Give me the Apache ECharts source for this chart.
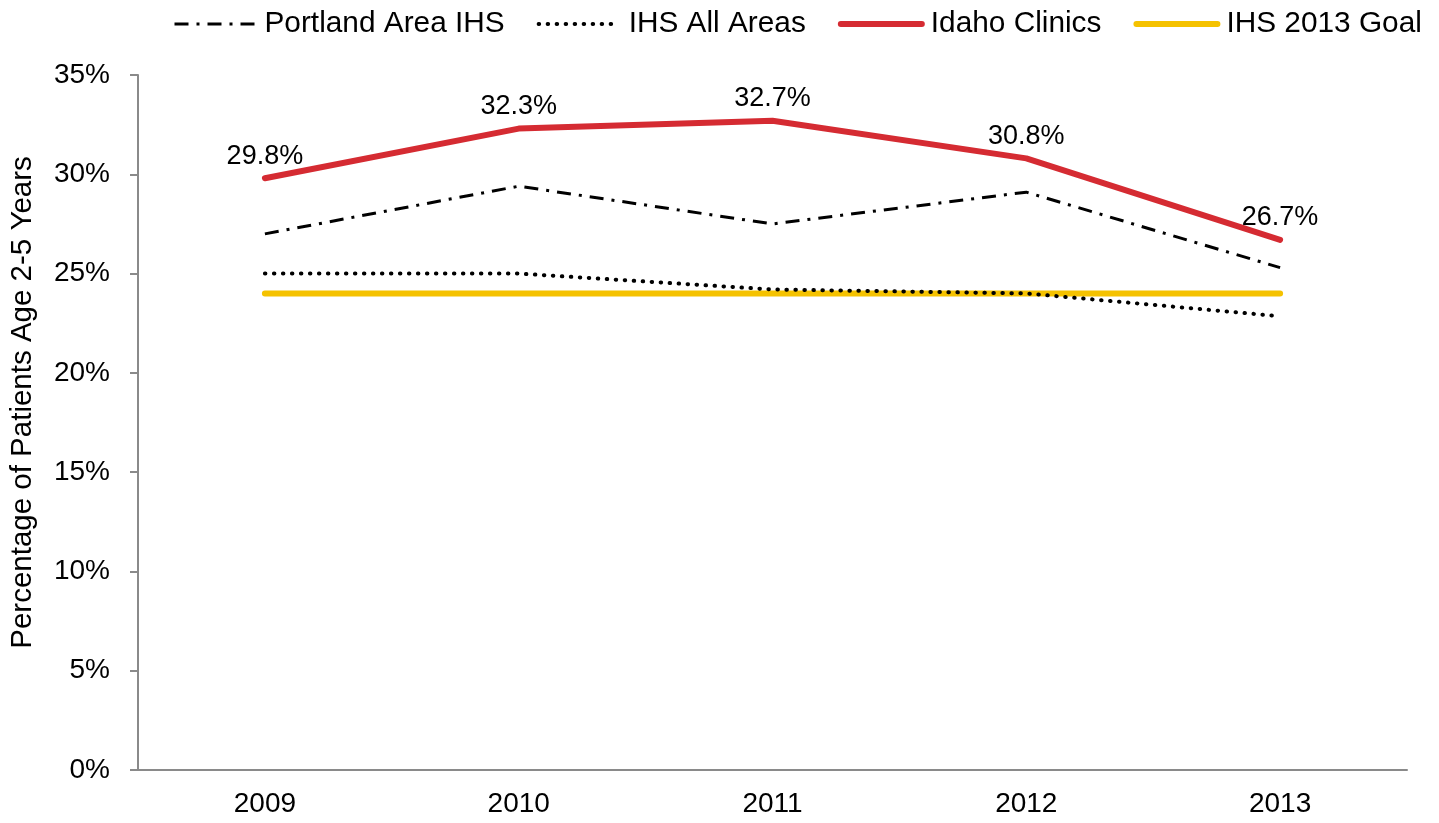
<!DOCTYPE html>
<html>
<head>
<meta charset="utf-8">
<script src="https://cdn.jsdelivr.net/npm/echarts@6/dist/echarts.min.js"></script>
<style>
html, body { margin: 0; padding: 0; background: #fff; }
#main { width: 1439px; height: 823px; }
</style>
</head>
<body>
<div id="main"></div>
<script>
// chart data
var years = ['2009', '2010', '2011', '2012', '2013'];
var portlandArea = [27.0, 29.4, 27.5, 29.1, 25.3];
var ihsAllAreas = [25.0, 25.0, 24.2, 24.0, 22.85];
var idahoClinics = [29.8, 32.3, 32.7, 30.8, 26.7];
var ihsGoal = [24.0, 24.0, 24.0, 24.0, 24.0];

var font = 'Liberation Sans, Arial, sans-serif';
var axisGray = '#8a8a8a';

var myChart = echarts.init(document.getElementById('main'));
var option = {
    animation: false,
    backgroundColor: '#fff',
    textStyle: { fontFamily: font },
    legend: {
        top: 4,
        left: 168,
        itemWidth: 81,
        itemHeight: 14,
        itemGap: 32,
        itemStyle: { opacity: 0 },
        lineStyle: { width: 'inherit' },
        textStyle: { fontSize: 29.8, color: '#000', fontFamily: font, padding: [0, 0, 0, 4] },
        data: ['Portland Area IHS', 'IHS All Areas', 'Idaho Clinics', 'IHS 2013 Goal']
    },
    grid: { left: 138, right: 32, top: 75, bottom: 53 },
    xAxis: {
        type: 'category',
        data: years,
        boundaryGap: true,
        axisLine: { lineStyle: { color: axisGray, width: 2 } },
        axisTick: { length: 8, lineStyle: { color: axisGray, width: 2 } },
        axisLabel: { fontSize: 28, color: '#000', margin: 20, fontFamily: font }
    },
    yAxis: {
        type: 'value',
        min: 0,
        max: 35,
        interval: 5,
        name: 'Percentage of Patients Age 2-5 Years',
        nameLocation: 'middle',
        nameGap: 100,
        nameTextStyle: { fontSize: 29.5, color: '#000', fontFamily: font, padding: [0, 0, 0, 40] },
        axisLine: { show: true, lineStyle: { color: axisGray, width: 2 } },
        axisTick: { show: true, length: 8, lineStyle: { color: axisGray, width: 2 } },
        splitLine: { show: false },
        axisLabel: {
            fontSize: 28, color: '#000', margin: 28, fontFamily: font,
            formatter: function (v) { return v + '%'; }
        }
    },
    series: [
        {
            name: 'Portland Area IHS',
            type: 'line',
            data: portlandArea,
            symbol: 'none',
            z: 3,
            lineStyle: { color: '#000', width: 3, type: [14, 8, 3, 8] },
            itemStyle: { color: '#000' }
        },
        {
            name: 'IHS All Areas',
            type: 'line',
            data: ihsAllAreas,
            symbol: 'none',
            z: 3,
            lineStyle: { color: '#000', width: 4, type: [0.5, 8.5], cap: 'round' },
            itemStyle: { color: '#000' }
        },
        {
            name: 'Idaho Clinics',
            type: 'line',
            data: idahoClinics,
            symbol: 'circle',
            symbolSize: 1,
            z: 4,
            lineStyle: { color: '#d52b32', width: 6, cap: 'round' },
            itemStyle: { color: '#d52b32' },
            label: {
                show: true,
                position: 'top',
                distance: 8,
                fontSize: 27,
                color: '#000',
                fontFamily: font,
                formatter: function (p) { return p.value.toFixed(1) + '%'; }
            }
        },
        {
            name: 'IHS 2013 Goal',
            type: 'line',
            data: ihsGoal,
            symbol: 'none',
            z: 2,
            lineStyle: { color: '#f5c200', width: 6, cap: 'round' },
            itemStyle: { color: '#f5c200' }
        }
    ]
};
myChart.setOption(option);
</script>
</body>
</html>
